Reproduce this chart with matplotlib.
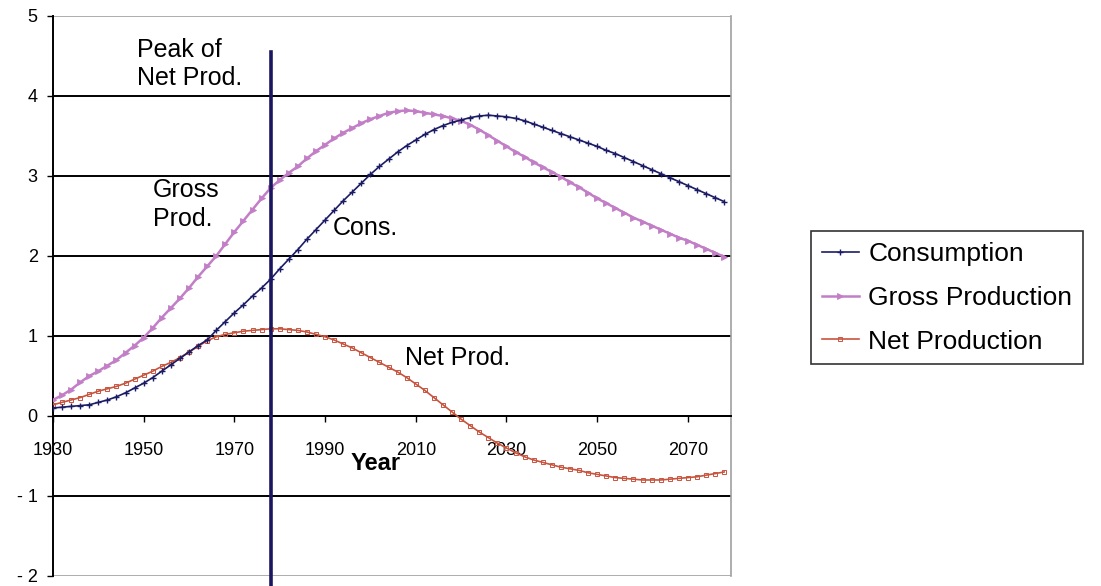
import matplotlib
matplotlib.use("Agg")
import matplotlib.pyplot as plt
from matplotlib import font_manager
import numpy as np

plt.rcParams["font.family"] = ["Liberation Sans", "DejaVu Sans"]

# data, every 2 years
years = list(range(1930, 2079, 2))

consumption = [
    0.10, 0.11, 0.12, 0.13, 0.14, 0.17, 0.20, 0.24, 0.29, 0.35,
    0.41, 0.48, 0.56, 0.64, 0.72, 0.80, 0.88, 0.95, 1.07, 1.18,
    1.29, 1.39, 1.50, 1.60, 1.71, 1.84, 1.96, 2.08, 2.21, 2.33,
    2.45, 2.57, 2.69, 2.80, 2.91, 3.02, 3.12, 3.21, 3.30, 3.38,
    3.45, 3.52, 3.58, 3.63, 3.67, 3.70, 3.73, 3.75, 3.76, 3.75,
    3.74, 3.72, 3.69, 3.65, 3.61, 3.57, 3.53, 3.49, 3.45, 3.41,
    3.37, 3.32, 3.28, 3.23, 3.18, 3.13, 3.08, 3.03, 2.98, 2.93,
    2.88, 2.83, 2.78, 2.73, 2.68,
]

gross_production = [
    0.20, 0.26, 0.33, 0.42, 0.50, 0.56, 0.63, 0.70, 0.79, 0.88,
    0.98, 1.10, 1.23, 1.35, 1.47, 1.60, 1.74, 1.87, 2.00, 2.15,
    2.30, 2.44, 2.58, 2.72, 2.85, 2.95, 3.04, 3.12, 3.22, 3.31,
    3.39, 3.47, 3.54, 3.60, 3.66, 3.71, 3.75, 3.79, 3.81, 3.82,
    3.81, 3.79, 3.77, 3.75, 3.72, 3.69, 3.64, 3.58, 3.51, 3.44,
    3.37, 3.30, 3.24, 3.17, 3.11, 3.05, 2.99, 2.92, 2.86, 2.79,
    2.72, 2.66, 2.60, 2.54, 2.48, 2.43, 2.38, 2.33, 2.28, 2.23,
    2.19, 2.14, 2.09, 2.04, 1.99,
]

net_production = [
    0.14, 0.17, 0.20, 0.23, 0.27, 0.31, 0.34, 0.37, 0.41, 0.46,
    0.51, 0.56, 0.62, 0.67, 0.73, 0.80, 0.87, 0.94, 0.99, 1.02,
    1.04, 1.06, 1.07, 1.08, 1.09, 1.09, 1.08, 1.07, 1.05, 1.02,
    0.99, 0.95, 0.90, 0.85, 0.79, 0.73, 0.67, 0.61, 0.55, 0.48,
    0.40, 0.32, 0.23, 0.14, 0.05, -0.04, -0.12, -0.20, -0.27, -0.34,
    -0.40, -0.46, -0.51, -0.55, -0.58, -0.61, -0.64, -0.66, -0.68, -0.71,
    -0.73, -0.75, -0.77, -0.78, -0.79, -0.80, -0.80, -0.80, -0.79, -0.78,
    -0.77, -0.76, -0.74, -0.72, -0.70,
]

peak_year = 1978
x_ticks = [1930, 1950, 1970, 1990, 2010, 2030, 2050, 2070]
y_ticks = [-2, -1, 0, 1, 2, 3, 4, 5]
y_labels = ["- 2", "- 1", "0", "1", "2", "3", "4", "5"]

# narrow face for the year labels if there is one
installed = {f.name for f in font_manager.fontManager.ttflist}
year_font = "Liberation Sans Narrow" if "Liberation Sans Narrow" in installed else "Liberation Sans"

fig = plt.figure(figsize=(11.01, 5.86), dpi=100)
ax = fig.add_axes([0.0481, 0.0171, 0.6158, 0.9556])

ax.set_xlim(1930, 2079.5)
ax.set_ylim(-2, 5)

# horizontal grid
for yv in y_ticks:
    if yv in (-2, 5):
        ax.axhline(yv, color="#a0a0a0", lw=1.2, zorder=1)
    else:
        ax.axhline(yv, color="black", lw=1.4, zorder=1)

ax.plot(years, consumption, color="#1c1c66", lw=1.2, marker="+", ms=4,
        mew=1.0, label="Consumption", zorder=4)
ax.plot(years, gross_production, color="#c27ec6", lw=1.8, marker=">", ms=4.5,
        mew=0.6, label="Gross Production", zorder=3)
ax.plot(years, net_production, color="#c8543e", lw=1.2, marker="s", ms=2.6,
        mfc="none", mew=0.7, label="Net Production", zorder=3)

# peak line
ax.plot([peak_year, peak_year], [-2.15, 4.55], color="#1a1660", lw=2.6,
        clip_on=False, zorder=5)

# spines / ticks
ax.spines["bottom"].set_position(("data", 0))
ax.spines["bottom"].set_color("black")
ax.spines["bottom"].set_linewidth(1.4)
ax.spines["left"].set_color("black")
ax.spines["left"].set_linewidth(1.4)
ax.spines["top"].set_visible(False)
ax.spines["right"].set_color("#a0a0a0")
ax.spines["right"].set_linewidth(1.2)

ax.set_xticks(x_ticks)
ax.set_xticklabels([str(v) for v in x_ticks], fontsize=13, family=year_font)
ax.set_yticks(y_ticks)
ax.set_yticklabels(y_labels, fontsize=13)
ax.tick_params(axis="x", direction="out", length=4, width=1, pad=15, color="black")
ax.tick_params(axis="y", direction="out", length=4, width=1, pad=7, color="black")

# annotations
ax.text(1948.5, 4.72, "Peak of\nNet Prod.", fontsize=18, va="top", ha="left",
        linespacing=1.2)
ax.text(1952, 2.98, "Gross\nProd.", fontsize=18, va="top", ha="left",
        linespacing=1.3)
ax.text(1991.8, 2.35, "Cons.", fontsize=18, va="center", ha="left")
ax.text(2007.6, 0.72, "Net Prod.", fontsize=18, va="center", ha="left")
ax.text(2001.2, -0.60, "Year", fontsize=17, fontweight="bold", va="center", ha="center")

leg = fig.legend(loc="upper left", bbox_to_anchor=(0.737, 0.605), fontsize=19,
                 frameon=True, fancybox=False, edgecolor="black", handlelength=1.4,
                 handletextpad=0.35, borderpad=0.4, labelspacing=0.75, borderaxespad=0)
leg.get_frame().set_linewidth(1.2)

fig.savefig("out.png", dpi=100, facecolor="white")
